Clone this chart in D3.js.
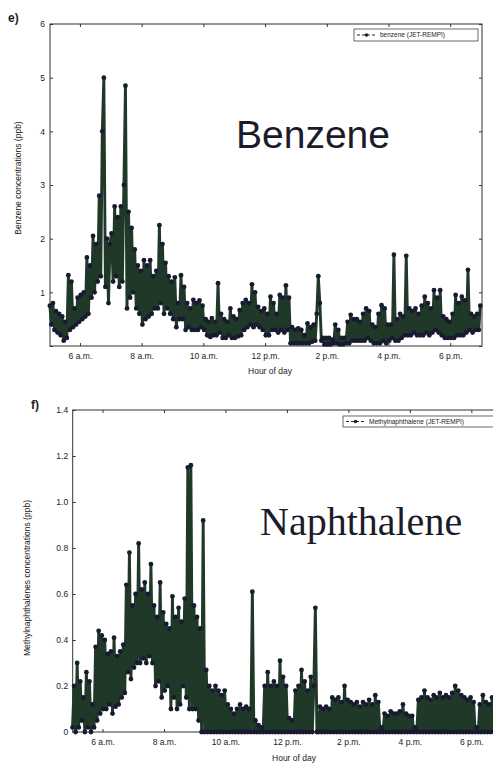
<!DOCTYPE html>
<html>
<head>
<meta charset="utf-8">
<script src="https://cdn.jsdelivr.net/npm/d3@7"></script>
<style>
  body { margin: 0; background: #fff; }
  svg { display: block; font-family: "Liberation Sans", Arial, sans-serif; }
</style>
</head>
<body>
<script>

var startHour = 5, step = 0.05; // one sample every 3 min
var hourTicks = [6, 8, 10, 12, 14, 16, 18];
var hourLabels = ["6 a.m.", "8 a.m.", "10 a.m.", "12 p.m.", "2 p.m.", "4 p.m.", "6 p.m."];
var benzeneTicks = [0, 1, 2, 3, 4, 5, 6];
var naphTicks = [0, 0.2, 0.4, 0.6, 0.8, 1.0, 1.2, 1.4];

// benzene (ppb)
var benzene5to8 = [
  0.75,0.4,0.8,0.3,0.65,0.25,0.6,0.2,0.55,0.1,0.45,0.15,1.32,0.3,1.2,0.35,0.7,0.4,0.9,0.45,
  0.95,0.5,1.0,0.55,1.65,0.6,1.5,0.9,2.05,1.0,1.9,1.2,2.8,1.3,4.0,5.0,1.1,2.0,0.8,1.9,
  2.1,1.2,2.6,1.3,2.4,1.1,2.6,1.2,3.0,4.85,0.7,2.5,0.9,2.2,1.0,1.8,0.7,1.5,0.6,1.4];
var benzene8to11 = [
  0.4,1.6,0.5,1.5,0.55,1.6,0.6,1.3,0.7,1.4,0.7,2.25,0.8,1.9,0.6,1.55,0.7,1.3,0.6,1.2,
  0.5,1.28,0.35,0.8,0.5,1.32,0.5,1.1,0.3,0.8,0.35,0.7,0.3,0.86,0.3,0.8,0.3,0.85,0.35,0.75,
  0.3,0.5,0.2,0.45,0.17,0.52,0.2,0.45,0.2,1.17,0.25,0.6,0.15,0.5,0.15,0.45,0.2,0.7,0.15,0.55];
var benzene11to14 = [
  0.15,0.5,0.18,0.67,0.2,0.8,0.3,0.86,0.35,0.8,0.4,1.15,0.35,1.0,0.4,0.73,0.35,0.65,0.3,0.7,
  0.2,0.6,0.2,0.92,0.3,0.8,0.3,0.6,0.25,0.95,0.3,0.9,0.25,1.13,0.3,0.9,0.05,0.35,0.05,0.3,
  0.05,0.33,0.05,0.3,0.05,0.2,0.05,0.42,0.05,0.35,0.08,0.4,0.1,0.6,1.3,0.8,0.1,0.15,0.03,0.15];
var benzene14to17 = [
  0.03,0.15,0.03,0.12,0.05,0.4,0.05,0.3,0.03,0.15,0.03,0.15,0.05,0.45,0.05,0.58,0.1,0.5,0.1,0.5,
  0.1,0.45,0.1,0.6,0.1,0.7,0.15,0.65,0.1,0.4,0.05,0.35,0.05,0.6,0.05,0.76,0.1,0.7,0.05,0.4,
  0.1,0.4,0.15,1.7,0.1,0.5,0.1,0.6,0.15,0.55,0.2,1.68,0.2,0.7,0.2,0.65,0.25,0.7,0.2,0.6];
var benzene17to19 = [
  0.2,0.75,0.2,0.92,0.25,0.8,0.2,0.7,0.25,1.04,0.3,0.9,0.25,1.04,0.2,0.55,0.15,0.5,0.15,0.45,
  0.15,0.6,0.15,0.95,0.2,0.8,0.2,0.92,0.2,0.85,0.25,1.42,0.3,0.6,0.25,0.55,0.3,0.6,0.3,0.75];

// methylnaphthalenes (ppb)
var naph5to8 = [
  0.02,0.2,0.0,0.3,0.02,0.22,0.05,0.15,0.0,0.26,0.02,0.22,0.0,0.12,0.02,0.37,0.05,0.44,0.08,0.42,
  0.1,0.4,0.1,0.34,0.12,0.35,0.08,0.41,0.11,0.33,0.12,0.35,0.15,0.38,0.17,0.64,0.26,0.78,0.23,0.55,
  0.28,0.6,0.3,0.82,0.3,0.62,0.32,0.65,0.3,0.6,0.33,0.73,0.3,0.55,0.2,0.5,0.22,0.65,0.15,0.52];
var naph8to11 = [
  0.18,0.47,0.2,0.45,0.1,0.59,0.15,0.5,0.1,0.54,0.12,0.48,0.2,0.58,0.15,1.15,0.1,1.16,0.1,0.55,
  0.1,0.5,0.05,0.45,0.0,0.92,0.0,0.27,0.0,0.2,0.0,0.18,0.0,0.2,0.0,0.18,0.0,0.16,0.0,0.18,
  0.0,0.12,0.0,0.1,0.0,0.08,0.0,0.1,0.0,0.12,0.0,0.1,0.0,0.11,0.0,0.1,0.0,0.61,0.0,0.05];
var naph11to14 = [
  0.0,0.03,0.0,0.02,0.0,0.2,0.0,0.26,0.0,0.2,0.0,0.22,0.0,0.2,0.0,0.31,0.0,0.24,0.0,0.2,
  0.0,0.06,0.0,0.05,0.0,0.18,0.0,0.2,0.0,0.27,0.0,0.22,0.0,0.18,0.0,0.24,0.0,0.2,0.54,0.0,
  0.0,0.11,0.0,0.1,0.0,0.11,0.0,0.1,0.0,0.15,0.0,0.14,0.0,0.15,0.0,0.13,0.0,0.2,0.0,0.14];
var naph14to17 = [
  0.0,0.13,0.0,0.12,0.0,0.13,0.0,0.11,0.0,0.13,0.0,0.12,0.0,0.14,0.0,0.12,0.0,0.16,0.0,0.13,
  0.0,0.02,0.0,0.08,0.0,0.07,0.0,0.09,0.0,0.08,0.0,0.08,0.0,0.09,0.0,0.12,0.0,0.08,0.0,0.07,
  0.0,0.07,0.0,0.02,0.0,0.14,0.0,0.15,0.0,0.18,0.0,0.15,0.0,0.14,0.0,0.16,0.0,0.15,0.0,0.17];
var naph17to19 = [
  0.0,0.15,0.0,0.16,0.0,0.15,0.0,0.17,0.0,0.2,0.0,0.18,0.0,0.16,0.0,0.15,0.0,0.14,0.0,0.15,
  0.0,0.13,0.0,0.02,0.0,0.12,0.0,0.16,0.0,0.13,0.0,0.12,0.0,0.15,0.0,0.13,0.0,0.12,0.0,0.14];

function series(chunks) {
    var all = [].concat.apply([], chunks);
    return all.map(function(v, i) {
        return {t: startHour + (i + 0.5) * step, v: v};
    });
}

var svg = d3.select("body").append("svg")
    .attr("width", 493)
    .attr("height", 764);

function Panel(cfg) {
    var x = d3.scaleLinear().domain([5.03, 19.03]).range([cfg.left, cfg.right]);
    var y = d3.scaleLinear().domain([0, cfg.yMax]).range([cfg.bottom, cfg.top]);
    var g = svg.append("g").style("color", "#333");

    function tidy(sel) {
        sel.attr("font-size", 8.5).attr("font-family", null);
        sel.select(".domain").remove();
        sel.selectAll("text").attr("fill", "#222");
    }

    g.append("g")
        .attr("transform", "translate(0," + cfg.bottom + ")")
        .call(d3.axisBottom(x).tickValues(hourTicks)
            .tickFormat(function(d, i) { return hourLabels[i]; })
            .tickSizeInner(-3).tickSizeOuter(0).tickPadding(cfg.xPad))
        .call(tidy);
    g.append("g")
        .attr("transform", "translate(0," + cfg.top + ")")
        .call(d3.axisTop(x).tickValues(hourTicks).tickFormat("")
            .tickSizeInner(-3).tickSizeOuter(0))
        .call(tidy);
    g.append("g")
        .attr("transform", "translate(" + cfg.left + ",0)")
        .call(d3.axisLeft(y).tickValues(cfg.yTicks).tickFormat(cfg.yFormat)
            .tickSizeInner(-3).tickSizeOuter(0).tickPadding(cfg.yPad))
        .call(tidy);
    g.append("g")
        .attr("transform", "translate(" + cfg.right + ",0)")
        .call(d3.axisRight(y).tickValues(cfg.yTicks).tickFormat("")
            .tickSizeInner(-3).tickSizeOuter(0))
        .call(tidy);

    g.append("rect")
        .attr("x", cfg.left).attr("y", cfg.top)
        .attr("width", cfg.right - cfg.left).attr("height", cfg.bottom - cfg.top)
        .attr("fill", "none").attr("stroke", "#333").attr("stroke-width", 1);

    var line = d3.line()
        .x(function(d) { return x(d.t); })
        .y(function(d) { return y(d.v); });

    g.append("path")
        .datum(cfg.data)
        .attr("d", line)
        .attr("fill", "none")
        .attr("stroke", "#1f3828")
        .attr("stroke-width", 2.9)
        .attr("stroke-linejoin", "round");

    g.selectAll("circle.pt").data(cfg.data).enter().append("circle")
        .attr("class", "pt")
        .attr("cx", function(d) { return x(d.t); })
        .attr("cy", function(d) { return y(d.v); })
        .attr("r", 2.4)
        .attr("fill", "#171a30");

    // legend
    var lg = g.append("g");
    lg.append("rect")
        .attr("x", cfg.legend.x).attr("y", cfg.legend.y)
        .attr("width", cfg.legend.w).attr("height", cfg.legend.h)
        .attr("fill", "#fff").attr("stroke", "#444").attr("stroke-width", 0.8);
    var ly = cfg.legend.y + cfg.legend.h / 2;
    lg.append("line")
        .attr("x1", cfg.legend.x + 3).attr("x2", cfg.legend.x + 22)
        .attr("y1", ly).attr("y2", ly)
        .attr("stroke", "#222").attr("stroke-dasharray", "3,2");
    lg.append("circle")
        .attr("cx", cfg.legend.x + 12.5).attr("cy", ly).attr("r", 1.8).attr("fill", "#222");
    lg.append("text")
        .attr("x", cfg.legend.x + 26).attr("y", ly + 2.3)
        .attr("font-size", 6.5).attr("fill", "#222")
        .text(cfg.legend.text);

    // titles
    svg.append("text")
        .attr("transform", "translate(" + cfg.yTitle[0] + "," + cfg.yTitle[1] + ") rotate(-90)")
        .attr("text-anchor", "middle").attr("font-size", 8.5).attr("fill", "#222")
        .text(cfg.yTitle[2]);
    svg.append("text")
        .attr("x", cfg.xTitle[0]).attr("y", cfg.xTitle[1])
        .attr("text-anchor", "middle").attr("font-size", 8.5).attr("fill", "#222")
        .text("Hour of day");
    svg.append("text")
        .attr("x", cfg.tag[0]).attr("y", cfg.tag[1])
        .attr("font-size", 12).attr("font-weight", "bold").attr("fill", "#222")
        .text(cfg.tag[2]);
    svg.append("text")
        .attr("x", cfg.big[0]).attr("y", cfg.big[1])
        .attr("font-size", cfg.big[3]).attr("font-family", cfg.big[4])
        .attr("fill", "#1b1b2b")
        .text(cfg.big[2]);
}

new Panel({
    left: 50, right: 482, top: 24, bottom: 346,
    yMax: 6, yTicks: benzeneTicks,
    yFormat: function(d) { return d === 0 ? "" : d; },
    xPad: 7, yPad: 5,
    data: series([benzene5to8, benzene8to11, benzene11to14, benzene14to17, benzene17to19]),
    legend: {x: 354, y: 29, w: 124, h: 12, text: "benzene (JET-REMPI)"},
    yTitle: [21, 178, "Benzene concentrations (ppb)"],
    xTitle: [270, 374],
    tag: [8, 22, "e)"],
    big: [236, 148, "Benzene", 39, "'Liberation Sans', Arial, sans-serif"]
});

new Panel({
    left: 72.7, right: 503, top: 410, bottom: 732,
    yMax: 1.4, yTicks: naphTicks,
    yFormat: function(d) { return d === 0 ? "0" : d3.format(".1f")(d); },
    xPad: 7, yPad: 4.5,
    data: series([naph5to8, naph8to11, naph11to14, naph14to17, naph17to19]),
    legend: {x: 343, y: 416, w: 160, h: 11, text: "Methylnaphthalene (JET-REMPI)"},
    yTitle: [30, 578, "Methylnaphthalenes concentrations (ppb)"],
    xTitle: [294, 761],
    tag: [31, 409, "f)"],
    big: [260, 535, "Naphthalene", 40, "'Liberation Serif', 'Times New Roman', serif"]
});

</script>
</body>
</html>
